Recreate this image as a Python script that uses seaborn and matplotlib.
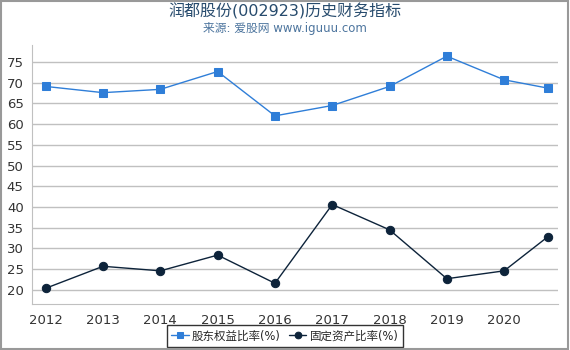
import pandas as pd
import seaborn as sns
import matplotlib.pyplot as plt
from matplotlib.patches import Rectangle

# chart data
years = [2012, 2013, 2014, 2015, 2016, 2017, 2018, 2019, 2020, 2020.76]
equity_ratio = [69.1, 67.6, 68.4, 72.7, 62.0, 64.5, 69.1, 76.4, 70.7, 68.7]
fixed_asset_ratio = [20.4, 25.7, 24.6, 28.4, 21.6, 40.6, 34.5, 22.7, 24.6, 32.8]
tick_years = [2012, 2013, 2014, 2015, 2016, 2017, 2018, 2019, 2020]
yticks = [20, 25, 30, 35, 40, 45, 50, 55, 60, 65, 70, 75]

sns.set_style('white')
plt.rcParams['font.family'] = ['DejaVu Sans', 'Noto Sans CJK SC']

fig = plt.figure(figsize=(5.7, 3.5), dpi=100)
ax = fig.add_axes([32 / 570, 1 - 304 / 350, 526 / 570, 259 / 350])

sns.lineplot(x=years, y=equity_ratio, ax=ax, color='#2f7ed8', marker='s',
             markersize=6, markeredgecolor='#2f7ed8', linewidth=1,
             label='股东权益比率(%)')
sns.lineplot(x=years, y=fixed_asset_ratio, ax=ax, color='#0d233a', marker='o',
             markersize=6, markeredgecolor='#0d233a', linewidth=1,
             label='固定资产比率(%)')

ax.set_xlim(2011.76, 2020.94)
ax.set_ylim(16.6, 79.1)
ax.set_xticks(tick_years)
ax.set_xticklabels([str(y) for y in tick_years])
ax.set_yticks(yticks)
ax.grid(axis='y', color='#c0c0c0', linewidth=1)
ax.set_axisbelow(True)
for s in ['top', 'right']:
    ax.spines[s].set_visible(False)
ax.spines['left'].set_color('#c0c0c0')
ax.spines['bottom'].set_color('#c0c0c0')
ax.tick_params(axis='both', labelsize=9.5, colors='#333333', length=4,
               direction='out', width=1)
ax.tick_params(axis='x', color='#c0c0c0')
ax.tick_params(axis='y', length=0, pad=6)
ax.set_xlabel('')
ax.set_ylabel('')

leg = ax.legend(loc='upper center', bbox_to_anchor=(0.481, -0.083), ncol=2,
                frameon=True, fontsize=8.3, handlelength=1.5, columnspacing=0.7,
                handletextpad=0.3, borderpad=0.35, borderaxespad=0,
                markerscale=0.8, fancybox=False)
leg.get_frame().set_edgecolor('black')
leg.get_frame().set_linewidth(1)

fig.text(0.5, 0.967, '润都股份(002923)历史财务指标', ha='center', va='center',
         fontsize=11.5, color='#274b6d')
fig.text(0.5, 0.918, '来源: 爱股网 www.iguuu.com', ha='center', va='center',
         fontsize=8.5, color='#4d759e')

fig.patches.append(Rectangle((0.002, 0.004), 0.994, 0.992, transform=fig.transFigure,
                             fill=False, edgecolor='#999999', linewidth=1.5))

fig.savefig('out.png', dpi=100)
